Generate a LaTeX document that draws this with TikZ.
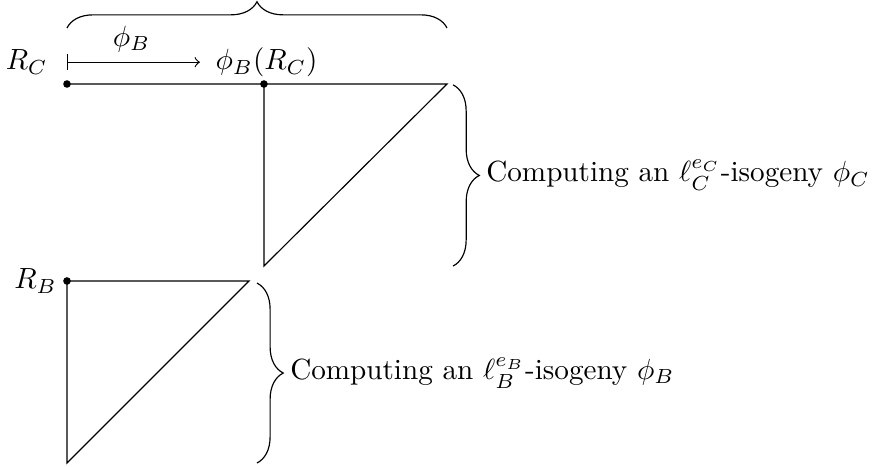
\documentclass[tikz,border=0pt]{standalone}
\usetikzlibrary{decorations.pathreplacing}

\begin{document}
\begin{tikzpicture}[
  dot/.style={circle, fill, inner sep=0pt, minimum size=2.6pt},
  brc/.style={decorate, decoration={brace, amplitude=9pt}},
  txt/.style={anchor=west, inner sep=2.3pt},
]
  \useasboundingbox (-0.807,-4.614) rectangle (9.855,1.012);
  \def\s{2.373}  % start of the second walk
  \def\l{2.193}  % leg of a triangle
  \def\a{0.313}  % brace height

  % --- Points ---
  \node[dot] (rc) at (0,0) {};
  \node[dot] (prc) at (\s,0) {};
  \coordinate (tc) at (\s+2.205,0);
  \coordinate (bc) at (\s,-\l);
  \node[dot] (rb) at (0,-\s) {};
  \coordinate (tb) at (\l,-\s);
  \coordinate (bb) at (0,-\s-\l);

  % --- Triangles ---
  \draw (rc.center) -- (tc) -- (bc) -- (prc.center);
  \draw (rb.center) -- (tb) -- (bb) -- cycle;

  % --- Labels ---
  \node[left] (rbl) at (rb) {$R_B$};
  \node[anchor=base east] (rcl) at (-0.11,0.169) {$R_C$};
  \node[anchor=base west] (prcl) at (1.666,0.169) {$\phi_B(R_C)$};
  \draw[|->, shorten <=0.11cm, shorten >=0.064cm]
    (rcl.east) -- (rcl.east -| prcl.west)
    node[midway, above] (phib) {$\phi_B$};

  % --- Braces ---
  \draw[brc] (0,0.675) -- (\s+2.205,0.675);
  \draw[brc] (4.651,-0.01) -- (4.651,-\l);
  \draw[brc] (2.289,-\s-0.025) -- (2.289,-\s-\l);
  \coordinate (tipc) at (4.651+\a,{-\l/2});
  \coordinate (tipb) at (2.289+\a,{-\s-\l/2-0.012});
  \node[txt] (isoc) at (tipc) {Computing an $\ell_C^{e_C}$-isogeny $\phi_C$};
  \node[txt] (isob) at (tipb) {Computing an $\ell_B^{e_B}$-isogeny $\phi_B$};
\end{tikzpicture}
\end{document}
